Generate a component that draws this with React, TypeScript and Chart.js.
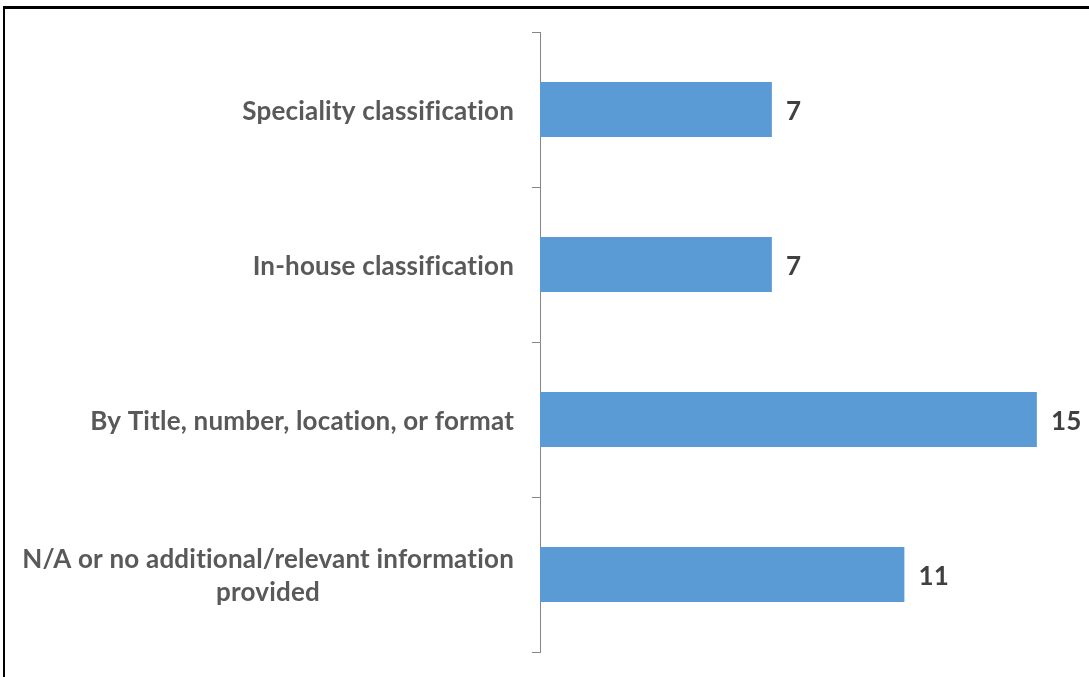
import React, { useEffect, useRef } from "react";
import { Chart, registerables } from "chart.js";

Chart.register(...registerables);

const categories: (string | string[])[] = [
  "Speciality classification",
  "In-house classification",
  "By Title, number, location, or format",
  ["N/A or no additional/relevant information", "provided"],
];
const values: number[] = [7, 7, 15, 11];
const xMin = 0;
const xMax = 16;

const FONT_FAMILY = "Lato, 'Open Sans', sans-serif";
const LABEL_SIZE = 26;
const VALUE_SIZE = 26;
const LABEL_COLOR = "#595959";
const VALUE_COLOR = "#404040";
const BAR_COLOR = "#5B9BD5";
const AXIS_COLOR = "#868686";
const TEXT_SHIFT = 2;

const labelPlugin = {
  id: "customLabels",
  afterDraw(chart: any) {
    const ctx = chart.ctx;
    const ys = chart.scales.y;
    const xs = chart.scales.x;
    ctx.save();
    try {
      (ctx as any).textRendering = "optimizeSpeed";
      (ctx as any).letterSpacing = "0.2px";
    } catch (e) {}
    ctx.font = `bold ${LABEL_SIZE}px ${FONT_FAMILY}`;
    ctx.textBaseline = "middle";
    // category labels
    ctx.fillStyle = LABEL_COLOR;
    ctx.textAlign = "center";
    const labelRight = ys.right - 26;
    const lineHeight = 33;
    categories.forEach((lab, i) => {
      const lines = Array.isArray(lab) ? lab : [lab];
      const cy = ys.getPixelForValue(i) + TEXT_SHIFT;
      const w = Math.max(...lines.map((l) => ctx.measureText(l).width));
      const cx = labelRight - w / 2;
      lines.forEach((ln, j) => {
        ctx.fillText(ln, cx, cy + (j - (lines.length - 1) / 2) * lineHeight);
      });
    });
    // value labels
    ctx.font = `bold ${VALUE_SIZE}px ${FONT_FAMILY}`;
    ctx.fillStyle = VALUE_COLOR;
    ctx.textAlign = "left";
    values.forEach((v, i) => {
      const px = xs.getPixelForValue(v) + 14;
      const cy = ys.getPixelForValue(i) + TEXT_SHIFT;
      ctx.fillText(String(v), px, cy);
    });
    ctx.restore();
  },
};

export default function App() {
  const ref = useRef<HTMLCanvasElement | null>(null);
  useEffect(() => {
    if (!ref.current) return;
    const chart = new Chart(ref.current, {
      type: "bar",
      data: {
        labels: categories as any,
        datasets: [
          {
            data: values,
            backgroundColor: BAR_COLOR,
            borderWidth: 0,
            categoryPercentage: 1,
            barPercentage: 0.355,
          },
        ],
      },
      options: {
        indexAxis: "y",
        responsive: false,
        animation: false,
        layout: { padding: { top: 32, bottom: 25, right: 19, left: 0 } },
        plugins: {
          legend: { display: false },
          tooltip: { enabled: false },
        },
        scales: {
          x: {
            display: false,
            min: xMin,
            max: xMax,
          },
          y: {
            position: "left",
            ticks: { display: false },
            grid: {
              display: true,
              drawOnChartArea: false,
              drawTicks: true,
              tickLength: 8,
              color: AXIS_COLOR,
              offset: true,
            },
            border: { display: true, color: AXIS_COLOR, width: 1 },
            afterFit(scale: any) {
              scale.width = 540;
            },
          },
        },
      },
      plugins: [labelPlugin],
    });
    return () => chart.destroy();
  }, []);

  return (
    <div style={{ position: "fixed", left: 0, top: 0, width: 1089, height: 677, background: "#fff" }}>
      <canvas ref={ref} width={1089} height={677} style={{ position: "absolute", left: 0, top: 0 }} />
      <div
        style={{
          position: "absolute",
          left: 3,
          top: 6,
          width: 1100,
          height: 668,
          borderTop: "3px solid #000",
          borderLeft: "2px solid #000",
          borderBottom: "1px solid #555",
          pointerEvents: "none",
        }}
      />
    </div>
  );
}
